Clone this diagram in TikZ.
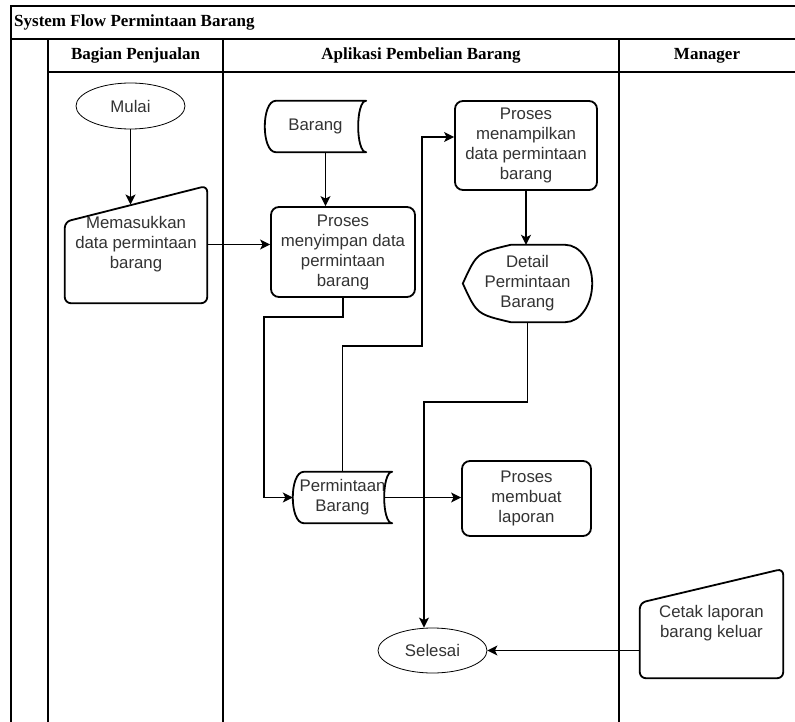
\documentclass[tikz,border=0pt]{standalone}
\usepackage{fontspec}
\setmainfont{Liberation Serif}
\newfontfamily\flowfont{Liberation Sans}
\usetikzlibrary{shapes.geometric,arrows.meta}
\begin{document}
\begin{tikzpicture}[x=1pt,y=-1pt,
  lane/.style={draw=black, line width=1.3pt},
  lanehead/.style={font=\bfseries\fontsize{17}{20}\selectfont, text=black, inner sep=0pt},
  txt/.style={font=\flowfont\fontsize{16.8}{20}\selectfont, text=black!80, align=center, inner sep=0pt},
  terminal/.style={txt, ellipse, draw=black, line width=0.8pt, minimum width=109pt, minimum height=46pt},
  procbox/.style={txt, rectangle, rounded corners=8pt, draw=black, line width=1.8pt},
  ghost/.style={txt, rectangle, draw=none},
  outline/.style={draw=black, line width=1.8pt, line join=round},
  flow/.style={draw=black, line width=1.3pt, -{Stealth[length=10pt,width=10pt,inset=2.5pt]}},
]
% canvas
\fill[white] (0,0) rectangle (795,722);
\useasboundingbox (0,0) rectangle (795,722);

% swimlane frame
\draw[lane] (795,6) -- (11,6) -- (11,722);
\draw[lane] (11,39) -- (795,39);
\draw[lane] (48,72) -- (795,72);
\draw[lane] (48,39) -- (48,722);
\draw[lane] (223,39) -- (223,722);
\draw[lane] (619,39) -- (619,722);

\node[lanehead, anchor=west] (title) at (14,22.5) {System Flow Permintaan Barang};
\node[lanehead] (lane1) at (135.5,55.5) {Bagian Penjualan};
\node[lanehead] (lane2) at (421,55.5) {Aplikasi Pembelian Barang};
\node[lanehead] (lane3) at (707,55.5) {Manager};

% flow elements
\node[terminal] (mulai) at (130.5,106) {Mulai};
\node[ghost, minimum width=142pt, minimum height=117pt] (mi) at (136,244.5) {Memasukkan\\data permintaan\\barang};
\node[ghost, minimum width=101pt, minimum height=51pt] (brg) at (315.5,126.5) {Barang};
\node[procbox, minimum width=144pt, minimum height=90pt] (ps) at (343,252) {Proses\\menyimpan data\\permintaan\\barang};
\node[procbox, minimum width=142pt, minimum height=89pt] (pt) at (526,145.5) {Proses\\menampilkan\\data permintaan\\barang};
\node[ghost, minimum width=129pt, minimum height=77pt] (dt) at (527.5,283.5) {Detail\\Permintaan\\Barang};
\node[ghost, minimum width=99pt, minimum height=51pt] (pb) at (342.5,497.5) {Permintaan\\Barang};
\node[procbox, minimum width=129pt, minimum height=75pt] (pm) at (526.5,498.5) {Proses\\membuat\\laporan};
\node[terminal, minimum height=45pt] (sl) at (432.5,650.5) {Selesai};
\node[ghost, minimum width=143pt, minimum height=109pt] (ck) at (711.5,623.5) {Cetak laporan\\barang keluar};

% manual input outlines
\draw[outline, rounded corners=6pt] (mi.south) -- (mi.south east) -- (mi.north east)
  -- ([yshift=-36pt]mi.north west) -- (mi.south west) -- cycle;
\draw[outline, rounded corners=6pt] (ck.south) -- (ck.south east) -- (ck.north east)
  -- ([yshift=-34pt]ck.north west) -- (ck.south west) -- cycle;

% stored data outlines: curved left and right sides
\foreach \n in {brg,pb} {
  \draw[outline] ([xshift=11pt]\n.north west) -- (\n.north east)
    .. controls ([xshift=-10.7pt]\n.north east) and ([xshift=-10.7pt]\n.south east) .. (\n.south east)
    -- ([xshift=11pt]\n.south west)
    .. controls ([xshift=-3.7pt]\n.south west) and ([xshift=-3.7pt]\n.north west) .. cycle;
}

% display outline
\draw[outline] (dt.west)
  .. controls ([xshift=14pt,yshift=-8pt]dt.north west) .. ([xshift=48pt]dt.north west)
  -- ([xshift=-27pt]dt.north east)
  .. controls ([xshift=-12pt]dt.north east) and ([yshift=21pt]dt.east) .. (dt.east)
  .. controls ([yshift=-21pt]dt.east) and ([xshift=-12pt]dt.south east) .. ([xshift=-27pt]dt.south east)
  -- ([xshift=48pt]dt.south west)
  .. controls ([xshift=14pt,yshift=8pt]dt.south west) .. cycle;

% connectors
\coordinate (miIn) at (130.5,204.5);
\coordinate (jB) at (264,317);
\coordinate (jA) at (422,346);
\coordinate (jC) at (424,402);

\draw[flow] (mulai.south) -- (miIn);
\draw[flow] (mi.east) -- (mi.east -| ps.west);
\draw[flow] ([xshift=10pt]brg.south) -- ([xshift=10pt]brg.south |- ps.north);
\draw[flow] (ps.south) |- (jB) |- (pb.west);
\draw[flow] (pb.north) |- (jA) |- ([yshift=8.5pt]pt.west);
\draw[flow] (pt.south) -- (pt.south |- dt.north);
\draw[flow] (dt.south) |- (jC) -- (jC |- sl.north);
\draw[flow] ([xshift=-8pt]pb.east) -- (pb.east -| pm.west);
\draw[flow] (sl.east -| ck.west) -- (sl.east);
\end{tikzpicture}
\end{document}
